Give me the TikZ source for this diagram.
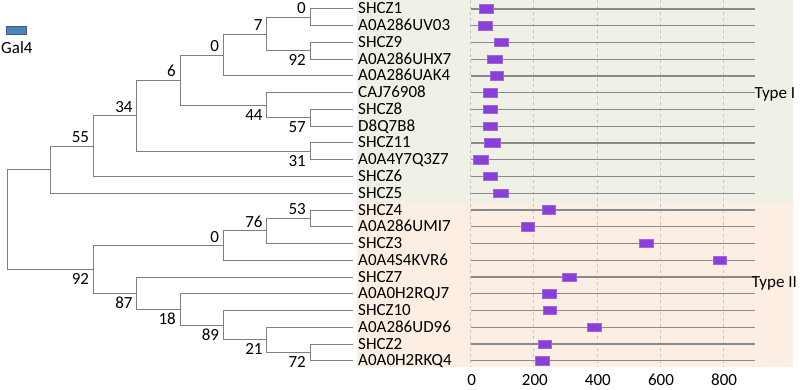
\documentclass[tikz,border=0pt]{standalone}
\usepackage{fontspec}
\setmainfont{Carlito}
\definecolor{bgI}{HTML}{EFF1E7}
\definecolor{bgII}{HTML}{FCEEE2}
\definecolor{treec}{HTML}{7F7F7F}
\definecolor{trackc}{HTML}{8A8A8A}
\definecolor{gridc}{HTML}{C4C4C4}
\definecolor{barc}{HTML}{8B3FD9}
\definecolor{barb}{HTML}{A066E0}
\definecolor{galf}{HTML}{4F81BD}
\definecolor{galb}{HTML}{385D8A}
\tikzset{
  txt/.style={font=\fontsize{17}{19}\selectfont, inner sep=0pt, text=black},
  leaf/.style={txt, anchor=base west},
  bsup/.style={txt, anchor=base east},
  branch/.style={draw=treec, line width=1pt},
  track/.style={draw=trackc, line width=1.2pt},
  gridln/.style={draw=gridc, line width=0.8pt, dash pattern=on 3pt off 3pt},
  dombar/.style={fill=barc, draw=barb, line width=0.6pt},
}
\begin{document}
\begin{tikzpicture}[x=1pt,y=-1pt]
\useasboundingbox (0,0) rectangle (800,390);
% backgrounds
\fill[bgI] (356.7,0) rectangle (793.3,203.3);
\fill[bgII] (356.7,203.3) rectangle (793.3,366.7);
% grid and axis
\foreach \k/\v in {0/0,1/200,2/400,3/600,4/800}{
  \draw[gridln] (470.7+63.1*\k,0) -- (470.7+63.1*\k,366.7);
  \node[txt, anchor=base] (ax\k) at (471.7+63.1*\k,385) {\v};
}
% leaves, tracks, domains
\foreach \i/\lab/\a/\b in {
 0/SHCZ1/479/493.3, 1/A0A286UV03/478.3/492.7, 2/SHCZ9/494.7/508.7,
 3/A0A286UHX7/487.7/502, 4/A0A286UAK4/490/503.7, 5/CAJ76908/483.3/497,
 6/SHCZ8/483.7/497.7, 7/D8Q7B8/483.7/497.7, 8/SHCZ11/484.7/500,
 9/A0A4Y7Q3Z7/473.7/488.7, 10/SHCZ6/483.3/497, 11/SHCZ5/493.7/508,
 12/SHCZ4/542.3/555.7, 13/A0A286UMI7/521/534.3, 14/SHCZ3/639.3/653,
 15/A0A4S4KVR6/713/726.7, 16/SHCZ7/562.7/576.7, 17/A0A0H2RQJ7/542.7/556,
 18/SHCZ10/543.3/556.7, 19/A0A286UD96/587.3/601.3, 20/SHCZ2/538.3/551.7,
 21/A0A0H2RKQ4/535.3/549}{
  \pgfmathsetmacro\yy{9+16.75*\i}
  \coordinate (e\i) at (353,\yy);
  \node[leaf] (t\i) at (358,\yy+5) {\lab};
  \coordinate (s\i) at (470.7,\yy);
  \coordinate (f\i) at (755,\yy);
  \draw[track] (s\i) -- (f\i);
  \draw[dombar] (\a,\yy-4.2) rectangle (\b,\yy+4.2);
}
% internal nodes
\coordinate (root) at (7,219.55);
\coordinate (nA) at (50,169.7);
\coordinate (nB55) at (93.3,146.14);
\coordinate (nB34) at (136.7,115.78);
\coordinate (nB6) at (180,80.19);
\coordinate (nB0u) at (223.3,55.06);
\coordinate (nB7) at (266.7,34.125);
\coordinate (nB0) at (310,17.375);
\coordinate (nB92) at (310,50.875);
\coordinate (nB44) at (266.7,105.31);
\coordinate (nB57) at (310,117.875);
\coordinate (nB31) at (310,151.375);
\coordinate (nC92) at (93.3,269.41);
\coordinate (nC0) at (223.3,245.59);
\coordinate (nC76) at (266.7,230.94);
\coordinate (nC53) at (310,218.375);
\coordinate (nC87) at (136.7,293.23);
\coordinate (nC18) at (180,309.45);
\coordinate (nC89) at (223.3,325.16);
\coordinate (nC21) at (266.7,339.81);
\coordinate (nC72) at (310,352.375);
% branches
\foreach \p/\c in {root/nA, root/nC92, nA/nB55, nA/e11, nB55/nB34, nB55/e10,
  nB34/nB6, nB34/nB31, nB6/nB0u, nB6/nB44, nB0u/nB7, nB0u/e4, nB7/nB0, nB7/nB92,
  nB0/e0, nB0/e1, nB92/e2, nB92/e3, nB44/e5, nB44/nB57, nB57/e6, nB57/e7,
  nB31/e8, nB31/e9, nC92/nC0, nC92/nC87, nC0/nC76, nC0/e15, nC76/nC53, nC76/e14,
  nC53/e12, nC53/e13, nC87/e16, nC87/nC18, nC18/e17, nC18/nC89, nC89/e18,
  nC89/nC21, nC21/e19, nC21/nC72, nC72/e20, nC72/e21}{
  \draw[branch] (\p) |- (\c);
}
% bootstrap values
\foreach \n/\v in {nB55/55, nB34/34, nB6/6, nB0u/0, nB7/7, nB0/0, nC0/0, nC76/76, nC53/53}{
  \node[bsup] (b\n) at ([shift={(-4,-3.5)}]\n) {\v};
}
\foreach \n/\v in {nB92/92, nB44/44, nB57/57, nB31/31, nC92/92, nC87/87, nC18/18, nC89/89, nC21/21, nC72/72}{
  \node[bsup] (b\n) at ([shift={(-4,15)}]\n) {\v};
}
% type labels
\node[txt, anchor=base west] (typeI) at (754.3,99) {Type I};
\node[txt, anchor=base west] (typeII) at (751.7,287.3) {Type II};
% legend
\node[draw=galb, fill=galf, line width=0.6pt, minimum width=19.3pt, minimum height=7.3pt, inner sep=0pt] (gal) at (16.35,30.35) {};
\node[txt, anchor=base west] (galtxt) at (1,54) {Gal4};
\end{tikzpicture}
\end{document}
